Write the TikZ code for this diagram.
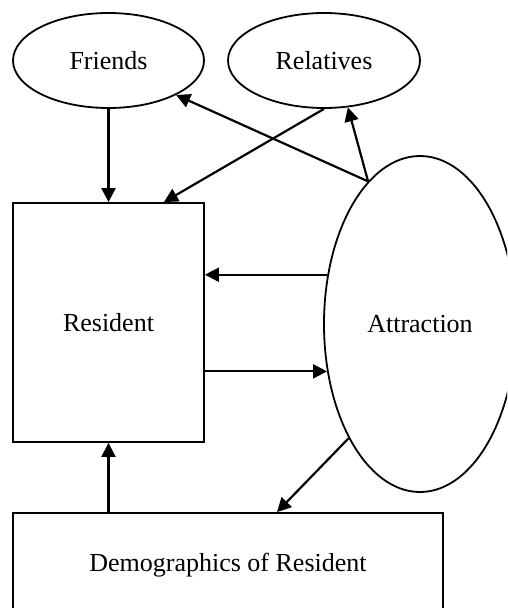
\documentclass[tikz,border=0pt]{standalone}
\usepackage{fontspec}
\setmainfont{Liberation Serif}
\usetikzlibrary{shapes.geometric,arrows.meta,calc}
\begin{document}
\begin{tikzpicture}[x=1pt,y=-1pt,
  every node/.style={font=\fontsize{26}{30}\selectfont, inner sep=0pt},
  oval/.style={draw, ellipse, line width=1.8pt},
  box/.style={draw, rectangle, line width=1.8pt},
  link/.style={line width=2.2pt, -{Triangle[length=14pt,width=14pt]}}]
\useasboundingbox (0,0) rectangle (507,608);
\clip (0,0) rectangle (507,608);
\fill[white] (0,0) rectangle (507,608);
\node[oval, minimum width=191pt, minimum height=95pt] (fr) at (108.5,60.5) {Friends};
\node[oval, minimum width=192pt, minimum height=95pt] (rel) at (324,60.5) {Relatives};
\node[box, minimum width=191pt, minimum height=239pt] (res) at (108.5,322.5) {Resident};
\node[oval, minimum width=192pt, minimum height=336pt] (att) at (420,324) {Attraction};
\node[box, minimum width=430pt, minimum height=104pt] (dem) at (228,565) {Demographics of Resident};
\draw[link] (fr.south) -- (fr.south |- res.north);
\draw[link] (rel.south) -- ([xshift=-41pt]res.north east);
\draw[link] (att.110) -- (fr.-27);
\draw[link] (att.110) -- (rel.-63);
\draw[link] (att.152) -- (att.152 -| res.east);
\draw[link] (att.207 -| res.east) -- (att.207);
\draw[link] (att.238) -- ([xshift=49pt]dem.north);
\draw[link] (dem.north -| res.south) -- (res.south);
\end{tikzpicture}
\end{document}
